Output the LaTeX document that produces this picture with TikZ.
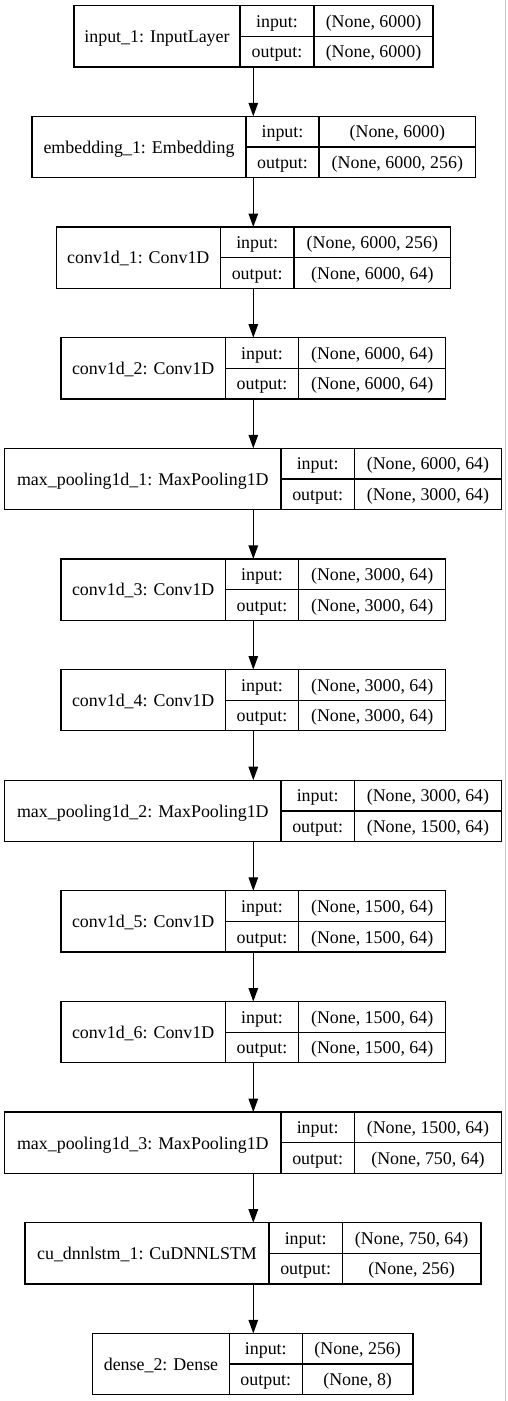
\documentclass[tikz,border=0pt]{standalone}
\usepackage{fontspec}
\setmainfont{Liberation Serif}
\usetikzlibrary{arrows.meta,fit}

\tikzset{
  layerbox/.style={draw=black, line width=1.3pt, inner sep=0pt, outer sep=0pt},
  cellline/.style={draw=black, line width=1.3pt},
  lbl/.style={inner sep=0pt, outer sep=0pt, text height=16pt, text depth=3.5pt,
              font=\fontsize{17.9}{20}\selectfont, text=black},
  arr/.style={draw=black, line width=1.3pt, -{Triangle[length=13.5pt,width=9.5pt]}}
}

% name, top, left, div1, div2, right, label, input, output
\newcommand\mylayer[9]{%
  \pgfmathsetmacro\ltop{-#2}%
  \pgfmathsetmacro\lbot{-#2-61.3}%
  \pgfmathsetmacro\lmid{-#2-30.65}%
  \pgfmathsetmacro\lqa{-#2-15.3}%
  \pgfmathsetmacro\lqb{-#2-46.0}%
  \coordinate (#1-tl) at (#3,\ltop);
  \coordinate (#1-br) at (#6,\lbot);
  \node[layerbox, fit=(#1-tl)(#1-br)] (#1) {};
  \draw[cellline] (#4,\ltop) -- (#4,\lbot);
  \draw[cellline] (#5,\ltop) -- (#5,\lbot);
  \draw[cellline] (#4,\lmid) -- (#6,\lmid);
  \node[lbl] (#1-name) at ({(#3+#4)/2},\lmid) {#7};
  \node[lbl] (#1-ik) at ({(#4+#5)/2},\lqa) {input:};
  \node[lbl] (#1-ok) at ({(#4+#5)/2},\lqb) {output:};
  \node[lbl] (#1-iv) at ({(#5+#6)/2},\lqa) {#8};
  \node[lbl] (#1-ov) at ({(#5+#6)/2},\lqb) {#9};
}

\begin{document}
\begin{tikzpicture}[x=1pt,y=1pt]
\useasboundingbox (0,0) rectangle (507,-1401);
\fill[white] (0,0) rectangle (507,-1401);
\draw[line width=1.6pt, draw=black!22] (505.6,0) -- (505.6,-1401);

\coordinate (axis) at (253.3,0);

\mylayer{l0}{5.7}{74}{240}{314}{433}{input\_1: InputLayer}{(None, 6000)}{(None, 6000)}
\mylayer{l1}{116.3}{32}{246}{319}{475.7}{embedding\_1: Embedding}{(None, 6000)}{(None, 6000, 256)}
\mylayer{l2}{227.0}{56.3}{220.3}{294}{450.7}{conv1d\_1: Conv1D}{(None, 6000, 256)}{(None, 6000, 64)}
\mylayer{l3}{337.6}{61}{225.3}{298.7}{445.7}{conv1d\_2: Conv1D}{(None, 6000, 64)}{(None, 6000, 64)}
\mylayer{l4}{448.3}{4.7}{281}{354.3}{501.7}{max\_pooling1d\_1: MaxPooling1D}{(None, 6000, 64)}{(None, 3000, 64)}
\mylayer{l5}{558.9}{61}{225.3}{298.7}{445.7}{conv1d\_3: Conv1D}{(None, 3000, 64)}{(None, 3000, 64)}
\mylayer{l6}{669.5}{61}{225.3}{298.7}{445.7}{conv1d\_4: Conv1D}{(None, 3000, 64)}{(None, 3000, 64)}
\mylayer{l7}{780.2}{4.7}{281}{354.3}{501.7}{max\_pooling1d\_2: MaxPooling1D}{(None, 3000, 64)}{(None, 1500, 64)}
\mylayer{l8}{890.8}{61}{225.3}{298.7}{445.7}{conv1d\_5: Conv1D}{(None, 1500, 64)}{(None, 1500, 64)}
\mylayer{l9}{1001.5}{61}{225.3}{298.7}{445.7}{conv1d\_6: Conv1D}{(None, 1500, 64)}{(None, 1500, 64)}
\mylayer{l10}{1112.1}{4.7}{281}{354.3}{501.7}{max\_pooling1d\_3: MaxPooling1D}{(None, 1500, 64)}{(None, 750, 64)}
\mylayer{l11}{1222.7}{25}{269}{342.3}{481}{cu\_dnnlstm\_1: CuDNNLSTM}{(None, 750, 64)}{(None, 256)}
\mylayer{l12}{1333.4}{92.7}{229.3}{302.3}{413}{dense\_2: Dense}{(None, 256)}{(None, 8)}

\foreach \a/\b in {l0/l1,l1/l2,l2/l3,l3/l4,l4/l5,l5/l6,l6/l7,l7/l8,l8/l9,l9/l10,l10/l11,l11/l12}{
  \draw[arr] (axis |- \a.south) -- (axis |- \b.north);
}
\end{tikzpicture}
\end{document}
